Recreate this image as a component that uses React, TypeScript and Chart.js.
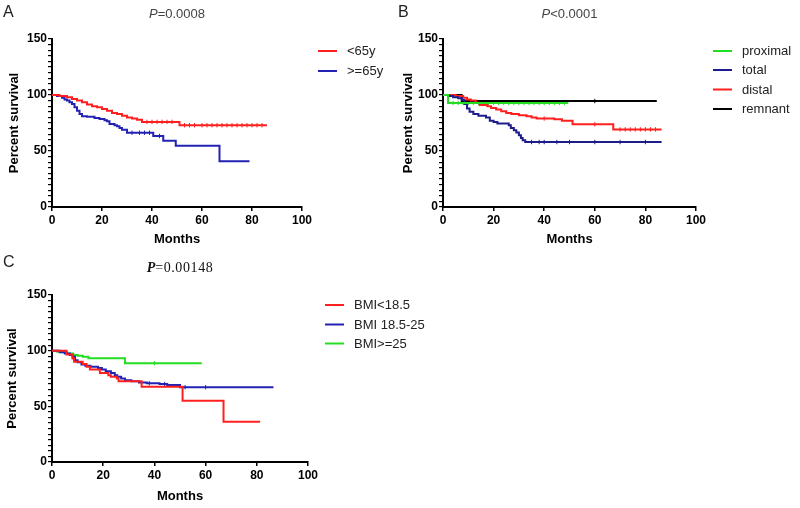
import { useEffect, useRef } from 'react';
import { Chart, registerables } from 'chart.js';

Chart.register(...registerables);

// ---------- shared axis values ----------
const monthTickStep = 20;
const monthMax = 100;
const survivalMax = 150;
const survivalMinorStep = 5;
const survivalMajorStep = 50;

// ---------- Panel A : age ----------
const aYoungMonths = [0, 3, 6, 8, 10, 12, 14, 16, 18, 20, 22, 24, 26, 28, 30, 32, 34, 36, 51, 86];
const aYoungSurv = [100, 99, 98, 96.5, 95, 93.5, 91.5, 90, 89, 87.5, 86, 84, 83, 81.5, 80, 79, 78, 76, 73, 73];
const aYoungCensor = [38, 40, 42, 44, 46, 48, 53, 55, 57, 60, 62, 64, 66, 68, 70, 72, 74, 76, 78, 80, 82, 84];

const aOldMonths = [0, 2, 4, 5, 6, 7, 8, 9, 10, 11, 12, 14, 17, 19, 21, 22, 23, 25, 26, 27, 28, 30, 40.5, 44.5, 49.5, 67, 79];
const aOldSurv = [100, 99, 97.5, 96, 95, 93.5, 92, 89, 86, 83, 81, 80.5, 79.5, 78.5, 77.5, 76.5, 74, 73, 72, 70.5, 69, 66.3, 63.4, 59.2, 54.7, 40.8, 40.8];
const aOldCensor = [32, 35, 37, 39, 43];

// ---------- Panel B : surgery type ----------
const bProxMonths = [0, 2, 49.5];
const bProxSurv = [100, 92.9, 92.9];
const bProxCensor = [4, 6, 8, 10, 12, 14, 16, 18, 20, 22, 24, 26, 28, 30, 32, 34, 36, 38, 40, 42, 44, 46, 48];

const bTotalMonths = [0, 2, 4, 6, 7.5, 8.5, 9.5, 10.5, 12, 14, 17, 18.5, 20, 21.5, 26, 26.8, 28, 29, 30, 30.8, 31.5, 32.5, 86.4];
const bTotalSurv = [100, 99, 98, 97, 95.5, 92, 88, 85, 83, 81.5, 80, 77, 76, 74.5, 73, 70.5, 68.5, 66.5, 64, 61.5, 59.5, 58, 58];
const bTotalCensor = [35, 38, 40, 45, 50, 60, 70, 80];

const bDistalMonths = [0, 5, 8, 9.5, 11, 13, 14.5, 17.5, 19, 21, 23, 25, 27, 30, 33, 35, 37, 44, 47, 51.2, 67.3, 86.4];
const bDistalSurv = [100, 99, 97.5, 96, 95, 93, 91, 90, 88.5, 87, 85.5, 84, 83, 82, 81, 80, 79, 78.3, 77, 73.8, 69.3, 69.3];
const bDistalCensor = [40, 60, 70, 72, 74, 76, 78, 80, 82, 84];

const bRemnantMonths = [0, 7.4, 84.5];
const bRemnantSurv = [100, 94.6, 94.6];
const bRemnantCensor = [60];

// ---------- Panel C : BMI ----------
const cLowMonths = [0, 5.7, 8, 8.6, 12, 13.5, 14.8, 18.7, 22, 23, 25.3, 26, 35, 51, 67, 81.3];
const cLowSurv = [100, 96.5, 93, 90, 88, 85.5, 83, 80, 78, 76.5, 75, 72.5, 67.7, 55.1, 36.2, 36.2];
const cLowCensor: number[] = [];

const cMidMonths = [0, 3, 5, 7, 8, 9, 10, 11.5, 13, 15, 18, 19.5, 21, 23, 24.5, 25.5, 27, 28.5, 31, 34, 37, 42, 45, 50, 86.5];
const cMidSurv = [100, 98.5, 97.5, 96, 94.5, 91.5, 89.5, 87.5, 86.5, 85.5, 84.5, 83, 81.5, 80, 78, 76.5, 75, 73.5, 72.5, 71.5, 70.7, 70, 69.2, 67.2, 67.2];
const cMidCensor = [38, 44, 52, 60];

const cHighMonths = [0, 2, 4, 6, 8.3, 10, 12, 14.2, 28.5, 58.5];
const cHighSurv = [100, 99, 98.5, 97.5, 96, 95.5, 94.5, 93.2, 88.7, 88.7];
const cHighCensor = [40];

// ---------- colours / fonts ----------
const RED = '#ff1f1f';
const BLUE = '#2222b4';
const NAVY = '#1c1c8c';
const GREEN = '#22dd22';
const BLACK = '#000000';
const SANS = '"Liberation Sans", Arial, Helvetica, sans-serif';
const SERIF = '"Liberation Serif", "Times New Roman", serif';

type Series = { label: string; color: string; months: number[]; surv: number[]; censor: number[] };

type PanelSpec = {
  letter: string;
  pPrefix: string;
  pRest: string;
  serifTitle?: boolean;
  left: number;
  top: number;
  width: number;
  height: number;
  area: { l: number; t: number; r: number; b: number };
  yTitleOffset: number;
  xTitleOffset: number;
  titleY: number;
  letterY: number;
  legend: { lineX: number; textX: number; ys: number[] };
  series: Series[];
};

function stepValue(months: number[], surv: number[], m: number) {
  let v = surv[0];
  for (let i = 0; i < months.length; i++) {
    if (months[i] <= m) v = surv[i];
  }
  return v;
}

const panels: PanelSpec[] = [
  {
    letter: 'A',
    pPrefix: 'P',
    pRest: '=0.0008',
    left: 0,
    top: 0,
    width: 395,
    height: 250,
    area: { l: 52, t: 39, r: 302, b: 207 },
    yTitleOffset: 7,
    xTitleOffset: 3,
    titleY: 14,
    letterY: 13,
    legend: { lineX: 318, textX: 347, ys: [51, 71] },
    series: [
      { label: '<65y', color: RED, months: aYoungMonths, surv: aYoungSurv, censor: aYoungCensor },
      { label: '>=65y', color: BLUE, months: aOldMonths, surv: aOldSurv, censor: aOldCensor },
    ],
  },
  {
    letter: 'B',
    pPrefix: 'P',
    pRest: '<0.0001',
    left: 395,
    top: 0,
    width: 405,
    height: 250,
    area: { l: 48, t: 39, r: 301, b: 207 },
    yTitleOffset: 5.5,
    xTitleOffset: 3,
    titleY: 14,
    letterY: 13,
    legend: { lineX: 318, textX: 347, ys: [51, 70, 89.5, 109] },
    series: [
      { label: 'proximal', color: GREEN, months: bProxMonths, surv: bProxSurv, censor: bProxCensor },
      { label: 'total', color: NAVY, months: bTotalMonths, surv: bTotalSurv, censor: bTotalCensor },
      { label: 'distal', color: RED, months: bDistalMonths, surv: bDistalSurv, censor: bDistalCensor },
      { label: 'remnant', color: BLACK, months: bRemnantMonths, surv: bRemnantSurv, censor: bRemnantCensor },
    ],
  },
  {
    letter: 'C',
    pPrefix: 'P',
    pRest: '=0.00148',
    serifTitle: true,
    left: 0,
    top: 250,
    width: 450,
    height: 258,
    area: { l: 52, t: 45, r: 308, b: 212 },
    yTitleOffset: 4.7,
    xTitleOffset: 3.5,
    titleY: 18,
    letterY: 13,
    legend: { lineX: 325, textX: 354, ys: [55, 74.5, 93.5] },
    series: [
      { label: 'BMI<18.5', color: RED, months: cLowMonths, surv: cLowSurv, censor: cLowCensor },
      { label: 'BMI 18.5-25', color: BLUE, months: cMidMonths, surv: cMidSurv, censor: cMidCensor },
      { label: 'BMI>=25', color: GREEN, months: cHighMonths, surv: cHighSurv, censor: cHighCensor },
    ],
  },
];

function overlayPlugin(spec: PanelSpec) {
  return {
    id: 'overlay' + spec.letter,
    afterDraw(chart: any) {
      const ctx: CanvasRenderingContext2D = chart.ctx;
      const area = chart.chartArea;
      ctx.save();
      // panel letter
      ctx.fillStyle = '#222';
      ctx.font = `16px ${SANS}`;
      ctx.textBaseline = 'middle';
      ctx.textAlign = 'left';
      ctx.fillText(spec.letter, 3, spec.letterY);

      // P value title
      const cx = (area.left + area.right) / 2;
      const pFont = spec.serifTitle ? `bold italic 14px ${SERIF}` : `italic 13px ${SANS}`;
      const rFont = spec.serifTitle ? `14px ${SERIF}` : `13px ${SANS}`;
      ctx.fillStyle = spec.serifTitle ? '#111' : '#444';
      ctx.font = pFont;
      const w1 = ctx.measureText(spec.pPrefix).width;
      ctx.font = rFont;
      if (spec.serifTitle) (ctx as any).letterSpacing = '0.6px';
      const w2 = ctx.measureText(spec.pRest).width;
      const x0 = cx - (w1 + w2) / 2;
      (ctx as any).letterSpacing = '0px';
      ctx.font = pFont;
      ctx.fillText(spec.pPrefix, x0, spec.titleY);
      ctx.font = rFont;
      if (spec.serifTitle) (ctx as any).letterSpacing = '0.6px';
      ctx.fillText(spec.pRest, x0 + w1, spec.titleY);
      (ctx as any).letterSpacing = '0px';

      // legend
      spec.series.forEach((s, i) => {
        const y = spec.legend.ys[i];
        ctx.strokeStyle = s.color;
        ctx.lineWidth = 2;
        ctx.beginPath();
        ctx.moveTo(spec.legend.lineX, y);
        ctx.lineTo(spec.legend.lineX + 19, y);
        ctx.stroke();
        ctx.fillStyle = '#222';
        ctx.font = `13px ${SANS}`;
        ctx.textBaseline = 'middle';
        ctx.fillText(s.label, spec.legend.textX, y + 0.5);
      });
      ctx.restore();
    },
  };
}

function Panel({ spec }: { spec: PanelSpec }) {
  const ref = useRef<HTMLCanvasElement | null>(null);

  useEffect(() => {
    if (!ref.current) return;
    const datasets: any[] = [];
    spec.series.forEach((s) => {
      datasets.push({
        label: s.label,
        data: s.months.map((m, i) => ({ x: m, y: s.surv[i] })),
        stepped: 'before',
        borderColor: s.color,
        backgroundColor: s.color,
        borderWidth: 2,
        pointRadius: 0,
        fill: false,
      });
    });
    spec.series.forEach((s) => {
      if (!s.censor.length) return;
      datasets.push({
        label: s.label + ' censored',
        data: s.censor.map((m) => ({ x: m, y: stepValue(s.months, s.surv, m) })),
        showLine: false,
        pointStyle: 'line',
        rotation: 90,
        pointRadius: 2.2,
        borderColor: s.color,
        backgroundColor: s.color,
        borderWidth: 1,
      });
    });

    const a = spec.area;
    const chart = new Chart(ref.current, {
      type: 'line',
      data: { datasets },
      options: {
        animation: false,
        responsive: false,
        maintainAspectRatio: false,
        events: [],
        layout: { padding: { left: 0, top: a.t, right: spec.width - a.r, bottom: 0 } },
        plugins: { legend: { display: false }, tooltip: { enabled: false }, title: { display: false } },
        scales: {
          x: {
            type: 'linear',
            min: 0,
            max: monthMax,
            afterFit: (scale: any) => {
              scale.height = spec.height - a.b;
            },
            ticks: {
              stepSize: monthTickStep,
              color: '#000',
              padding: 2,
              font: { family: SANS, size: 12, weight: 'bold' },
              maxRotation: 0,
            },
            grid: { drawOnChartArea: false, drawTicks: true, tickLength: 4, color: '#000', lineWidth: 1.5 },
            border: { display: true, color: '#000', width: 2 },
            title: {
              display: true,
              text: 'Months',
              color: '#000',
              font: { family: SANS, size: 13, weight: 'bold' },
              padding: { top: 0, bottom: spec.xTitleOffset },
            },
          },
          y: {
            type: 'linear',
            min: 0,
            max: survivalMax,
            afterFit: (scale: any) => {
              scale.width = a.l;
            },
            ticks: {
              stepSize: survivalMinorStep,
              autoSkip: false,
              color: '#000',
              padding: 1,
              font: { family: SANS, size: 12, weight: 'bold' },
              callback: (v: any) => (Number(v) % survivalMajorStep === 0 ? String(v) : ''),
            },
            grid: { drawOnChartArea: false, drawTicks: true, tickLength: 4, color: '#000', lineWidth: 1.2 },
            border: { display: true, color: '#000', width: 2 },
            title: {
              display: true,
              text: 'Percent survival',
              color: '#000',
              font: { family: SANS, size: 13, weight: 'bold' },
              padding: { top: spec.yTitleOffset, bottom: 0 },
            },
          },
        },
      } as any,
      plugins: [overlayPlugin(spec)],
    });
    return () => chart.destroy();
  }, [spec]);

  return (
    <canvas
      ref={ref}
      width={spec.width}
      height={spec.height}
      style={{ position: 'absolute', left: spec.left, top: spec.top, width: spec.width, height: spec.height }}
    />
  );
}

export default function App() {
  return (
    <div style={{ position: 'fixed', left: 0, top: 0, width: 800, height: 508, background: '#fff', overflow: 'hidden' }}>
      {panels.map((p) => (
        <Panel key={p.letter} spec={p} />
      ))}
    </div>
  );
}
